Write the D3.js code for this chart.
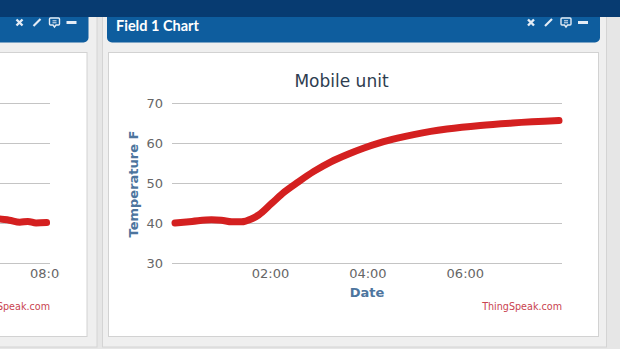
<!DOCTYPE html>
<html>
<head>
<meta charset="utf-8">
<script src="https://d3js.org/d3.v7.min.js"></script>
<style>
    body { margin: 0; background: #e6e6e6; }
    svg { display: block; }
</style>
</head>
<body>
<script>
// Field 1 chart - "Mobile unit" temperature readings
var times = ["00:03", "00:24", "00:48", "01:00", "01:13", "01:25", "01:37", "01:46", "02:02", "02:18",
             "02:35", "02:54", "03:15", "03:36", "03:55", "04:16", "04:37", "04:57", "05:18", "05:38",
             "06:19", "06:59", "07:56"];
var temps = [40.0, 40.4, 40.8, 40.7, 40.3, 40.3, 41.0, 42.0, 44.9, 47.8,
             50.3, 52.9, 55.3, 57.2, 58.7, 60.1, 61.2, 62.1, 62.9, 63.5,
             64.4, 65.0, 65.6];

// neighbouring widget on the left, only the end of its line is in view
var leftTimes = ["06:45", "07:00", "07:12", "07:25", "07:35", "07:45", "07:58"];
var leftTemps = [41.6, 41.0, 40.7, 40.2, 40.4, 40.0, 40.1];

var yTicks = [30, 40, 50, 60, 70];
var xTicks = ["02:00", "04:00", "06:00"];
var leftXTicks = ["06:00", "08:00"];

var W = 620, H = 349;
var parse = d3.timeParse("%H:%M");
var fmt = d3.timeFormat("%H:%M");
var font = "'DejaVu Sans', Verdana, sans-serif";
var navy = "#073b71", headBlue = "#0e5d9e";
var lineRed = "#d42020";

var svg = d3.select("body").append("svg")
    .attr("width", W)
    .attr("height", H);

// ---- dashboard frame ----
svg.append("rect").attr("x", -20).attr("y", 10).attr("width", 117).attr("height", 337)
    .attr("fill", "#efefef").attr("stroke", "#d4d4d4");
svg.append("rect").attr("x", 102.5).attr("y", 10).attr("width", 504).attr("height", 337)
    .attr("fill", "#efefef").attr("stroke", "#d4d4d4");

function header(x, w, title) {
    svg.append("rect").attr("x", x).attr("y", 4).attr("width", w).attr("height", 38.5)
        .attr("rx", 5).attr("fill", headBlue);
    if (title) {
        svg.append("text").attr("x", x + 9).attr("y", 31)
            .style("font-family", "Lato, sans-serif").style("font-weight", "700")
            .style("font-size", "14.5px").attr("fill", "#fff")
            .text(title);
    }
    // icons: close, edit, comment, minimise
    var r = x + w, c = "#e4ecf5";
    var g = svg.append("g").attr("stroke", c).attr("fill", "none");
    g.append("path").attr("d", "M" + (r - 72) + ",19.5 l6,6 m0,-6 l-6,6").attr("stroke-width", 2.4);
    g.append("path").attr("d", "M" + (r - 55) + ",26 l7,-7").attr("stroke-width", 2.2);
    g.append("path").attr("d", "M" + (r - 38) + ",18 h8 a1,1 0 0 1 1,1 v5 a1,1 0 0 1 -1,1 h-2.5 l-1.5,2 l-1.5,-2 h-2.5 a1,1 0 0 1 -1,-1 v-5 a1,1 0 0 1 1,-1z")
        .attr("stroke-width", 1.4);
    g.append("path").attr("d", "M" + (r - 36) + ",20.8 h4 M" + (r - 36) + ",22.8 h4").attr("stroke-width", 1);
    g.append("rect").attr("x", r - 22).attr("y", 21).attr("width", 10).attr("height", 3)
        .attr("fill", c).attr("stroke", "none");
}
header(-20, 108.5, null);
header(107, 493, "Field 1 Chart");

svg.append("rect").attr("x", -20).attr("y", 52.5).attr("width", 107).attr("height", 284)
    .attr("fill", "#fff").attr("stroke", "#d2d2d2");
svg.append("rect").attr("x", 108.5).attr("y", 52.5).attr("width", 490).attr("height", 284)
    .attr("fill", "#fff").attr("stroke", "#d2d2d2");

svg.append("rect").attr("x", 0).attr("y", 0).attr("width", W).attr("height", 17).attr("fill", navy);

// ---- shared y scale ----
var y = d3.scaleLinear().domain([30, 70]).range([263, 103]);

// ---- left (partial) chart ----
svg.append("clipPath").attr("id", "leftClip")
    .append("rect").attr("x", -400).attr("y", 52).attr("width", 460).attr("height", 284);
var lg = svg.append("g").attr("clip-path", "url(#leftClip)");
var xl = d3.scaleTime().domain([parse("00:05"), parse("08:01")]).range([-337, 49]);

lg.selectAll(".grid").data(yTicks).enter().append("line")
    .attr("x1", -338).attr("x2", 50)
    .attr("y1", function(d) { return Math.round(y(d)) + 0.5; })
    .attr("y2", function(d) { return Math.round(y(d)) + 0.5; })
    .attr("stroke", "#c4c4c4");

lg.append("path")
    .datum(leftTimes.map(function(t, i) { return [parse(t), leftTemps[i]]; }))
    .attr("fill", "none").attr("stroke", lineRed).attr("stroke-width", 7)
    .attr("stroke-linecap", "round").attr("stroke-linejoin", "round")
    .attr("d", d3.line().curve(d3.curveMonotoneX)
        .x(function(d) { return xl(d[0]); })
        .y(function(d) { return y(d[1]); }));

var lxa = lg.append("g").attr("transform", "translate(0,263)")
    .call(d3.axisBottom(xl).tickValues(leftXTicks.map(parse)).tickFormat(fmt)
        .tickSize(0).tickPadding(6));
lxa.select(".domain").remove();
lxa.selectAll("text").style("font-family", font).style("font-size", "13px").attr("fill", "#666");

lg.append("text").attr("x", 50).attr("y", 310).attr("text-anchor", "end")
    .style("font-family", font).style("font-size", "9.6px").attr("fill", "#c94450")
    .text("ThingSpeak.com");

// ---- main chart ----
var x = d3.scaleTime()
    .domain([parse(times[0]), parse(times[times.length - 1])])
    .range([175, 559]);

svg.selectAll(".gridR").data(yTicks).enter().append("line")
    .attr("x1", 172).attr("x2", 562)
    .attr("y1", function(d) { return Math.round(y(d)) + 0.5; })
    .attr("y2", function(d) { return Math.round(y(d)) + 0.5; })
    .attr("stroke", "#c4c4c4");

var ya = svg.append("g").attr("transform", "translate(172,0)")
    .call(d3.axisLeft(y).tickValues(yTicks).tickSize(0).tickPadding(9));
ya.select(".domain").remove();
ya.selectAll("text").style("font-family", font).style("font-size", "13px").attr("fill", "#666");

var xa = svg.append("g").attr("transform", "translate(0,263)")
    .call(d3.axisBottom(x).tickValues(xTicks.map(parse)).tickFormat(fmt)
        .tickSize(0).tickPadding(6));
xa.select(".domain").remove();
xa.selectAll("text").style("font-family", font).style("font-size", "13px").attr("fill", "#666");

svg.append("path")
    .datum(times.map(function(t, i) { return [parse(t), temps[i]]; }))
    .attr("fill", "none").attr("stroke", lineRed).attr("stroke-width", 7)
    .attr("stroke-linecap", "round").attr("stroke-linejoin", "round")
    .attr("d", d3.line().curve(d3.curveMonotoneX)
        .x(function(d) { return x(d[0]); })
        .y(function(d) { return y(d[1]); }));

// titles
svg.append("text").attr("x", 341.5).attr("y", 87).attr("text-anchor", "middle")
    .style("font-family", font).style("font-size", "17px").attr("fill", "#2e3d50")
    .text("Mobile unit");

svg.append("text").attr("transform", "translate(138,184) rotate(-90)")
    .attr("text-anchor", "middle")
    .style("font-family", font).style("font-size", "13px").style("font-weight", "bold")
    .attr("fill", "#4d759e")
    .text("Temperature F");

svg.append("text").attr("x", 367).attr("y", 297).attr("text-anchor", "middle")
    .style("font-family", font).style("font-size", "13px").style("font-weight", "bold")
    .attr("fill", "#4d759e")
    .text("Date");

svg.append("text").attr("x", 562).attr("y", 310).attr("text-anchor", "end")
    .style("font-family", font).style("font-size", "9.6px").attr("fill", "#c94450")
    .text("ThingSpeak.com");
</script>
</body>
</html>
